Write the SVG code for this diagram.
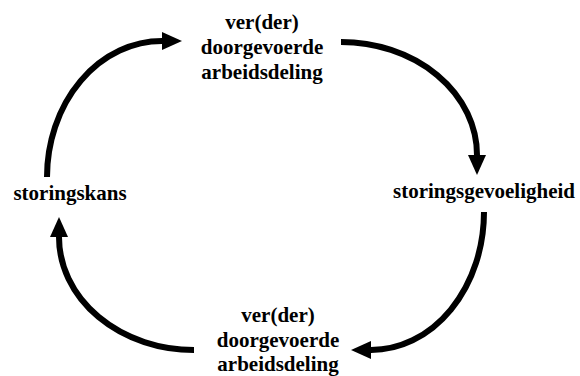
<svg xmlns="http://www.w3.org/2000/svg" width="580" height="376" viewBox="0 0 580 376">
<style>
text{font-family:"Liberation Serif","Times New Roman","DejaVu Serif",serif;font-weight:700;font-size:21px;fill:#000;text-anchor:middle}
.c{fill:none;stroke:#000;stroke-width:6}
</style>
<defs>
<marker id="ah" markerUnits="userSpaceOnUse" markerWidth="22" markerHeight="20" viewBox="0 -10 22 20" refX="0" refY="0" orient="auto">
<path d="M0,-9 L20,0 L0,9 Z" fill="#000"/>
</marker>
</defs>
<rect width="580" height="376" fill="#fff"/>
<g id="connectors">
<path class="c" d="M341,42 A136,113 0 0 1 477,155" marker-end="url(#ah)"/>
<path class="c" d="M484,212 A113,138 0 0 1 371,350" marker-end="url(#ah)"/>
<path class="c" d="M194,350 A135,113 0 0 1 59,237" marker-end="url(#ah)"/>
<path class="c" d="M47,177 A115,136 0 0 1 162,41" marker-end="url(#ah)"/>
</g>
<g id="top"><text x="262" y="29">ver(der)</text><text x="262" y="54">doorgevoerde</text><text x="262" y="79">arbeidsdeling</text></g>
<g id="right"><text x="484" y="198">storingsgevoeligheid</text></g>
<g id="bottom"><text x="278" y="322">ver(der)</text><text x="278" y="347">doorgevoerde</text><text x="278" y="371">arbeidsdeling</text></g>
<g id="left"><text x="70" y="200">storingskans</text></g>
</svg>
